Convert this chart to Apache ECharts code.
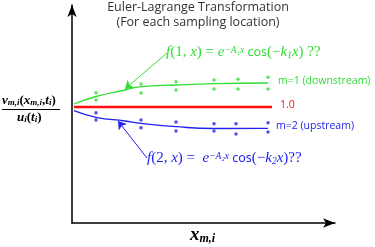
<!DOCTYPE html>
<html><head><meta charset="utf-8">
<script src="https://cdn.jsdelivr.net/npm/echarts@6/dist/echarts.min.js"></script>
<style>html,body{margin:0;padding:0;background:#fff}#c{width:375px;height:247px}</style>
</head><body><div id="c"></div>
<script>
// data (x: distance along axis, y: ratio in arbitrary units)
var greenCurve = [[2,119],[24,126.5],[53,133],[69,136.3],[104,138],[142,139.3],[196,140]];
var greenDots = [[24,130.3],[24,123],[69,139],[69,130],[104,141.3],[104,133],[142,143],[142,134],[166,143.7],[166,134],[196,145.7],[196,134]];
var redLine = [[2,116],[200,116]];
var blueCurve = [[2,112.3],[24,105.7],[53,102],[69,99.7],[104,96.3],[142,94.5],[196,94.7]];
var blueDots = [[24,110.3],[24,103],[69,103],[69,95.3],[104,101],[104,92],[142,99.3],[142,92],[164,99.3],[164,89],[196,100.3],[196,91]];
var greenArrow = [[95,170],[53,134]];
var blueArrow = [[75,65],[46,102]];

var G = '#33dd33', B = '#2222ee', R = '#ff1111';
var chart = echarts.init(document.getElementById('c'), null, {renderer:'canvas'});
var SF = '"Liberation Serif"';
function fstyles(col){
  return {
    i:{font:'italic 15px '+SF,fill:col},
    n:{font:'15px '+SF,fill:col},
    c:{font:'12.5px "Noto Sans"',fill:col},
    sup:{font:'italic 9.5px '+SF,fill:col,verticalAlign:'top'},
    sub:{font:'italic 9.5px '+SF,fill:col,verticalAlign:'bottom'}
  };
}
var blk = {
  i:{font:'italic bold 13px '+SF,fill:'#000'},
  n:{font:'bold 13px '+SF,fill:'#000'},
  s:{font:'italic bold 9px '+SF,fill:'#000',verticalAlign:'bottom'}
};
chart.setOption({
  animation:false,
  grid:{left:72,right:40,top:5,bottom:24},
  xAxis:{type:'value',min:0,max:263,axisLine:{show:true,lineStyle:{color:'#000',width:1.5},symbol:['none','arrow'],symbolSize:[7,12]},
    axisTick:{show:false},axisLabel:{show:false},splitLine:{show:false}},
  yAxis:{type:'value',min:0,max:218,axisLine:{show:true,lineStyle:{color:'#000',width:1.5},symbol:['none','arrow'],symbolSize:[7,12]},
    axisTick:{show:false},axisLabel:{show:false},splitLine:{show:false}},
  series:[
    {type:'line',data:greenCurve,smooth:0.5,showSymbol:false,lineStyle:{color:G,width:1.3},silent:true},
    {type:'scatter',data:greenDots,symbolSize:3.5,itemStyle:{color:G}},
    {type:'line',data:redLine,showSymbol:false,lineStyle:{color:R,width:2.5}},
    {type:'line',data:blueCurve,smooth:0.5,showSymbol:false,lineStyle:{color:B,width:1.3}},
    {type:'scatter',data:blueDots,symbolSize:3.5,itemStyle:{color:B}},
    {type:'line',data:greenArrow,showSymbol:false,lineStyle:{color:G,width:1,opacity:0},
      markLine:{silent:true,symbol:['none','arrow'],symbolSize:8,label:{show:false},lineStyle:{color:G,width:1,type:'solid'},data:[[{coord:greenArrow[0]},{coord:greenArrow[1]}]]}},
    {type:'line',data:blueArrow,showSymbol:false,lineStyle:{color:B,width:1,opacity:0},
      markLine:{silent:true,symbol:['none','arrow'],symbolSize:8,label:{show:false},lineStyle:{color:B,width:1,type:'solid'},data:[[{coord:blueArrow[0]},{coord:blueArrow[1]}]]}}
  ],
  graphic:[
    {type:'text',x:198,y:1,style:{text:'Euler-Lagrange Transformation',font:'12.5px "Open Sans"',fill:'#333',align:'center'}},
    {type:'text',x:198,y:16,style:{text:'(For each sampling location)',font:'12.5px "Open Sans"',fill:'#333',align:'center'}},
    {type:'text',left:166,top:45,style:{text:'{i|f}{n|(1, }{i|x}{n|) = }{i|e}{sup|−A₁x} {c|cos}{n|(−}{i|k}{sub|1}{i|x}{n|) ??}',rich:fstyles(G)}},
    {type:'text',left:147,top:151,style:{text:'{i|f}{n|(2, }{i|x}{n|) =  }{i|e}{sup|−A₂x} {c|cos}{n|(−}{i|k}{sub|2}{i|x}{n|)??}',rich:fstyles(B)}},
    {type:'text',left:278,top:76,style:{text:'m=1 (downstream)',font:'10.5px "Open Sans"',fill:G}},
    {type:'text',left:280,top:100,style:{text:'1.0',font:'10.5px "Open Sans"',fill:R}},
    {type:'text',left:276,top:121,style:{text:'m=2 (upstream)',font:'10.5px "Open Sans"',fill:B}},
    {type:'text',left:2,top:94,style:{text:'{i|v}{s|m,i}{n|(}{i|x}{s|m,i}{n|,}{i|t}{s|i}{n|)}',rich:blk}},
    {type:'line',shape:{x1:2,y1:109.5,x2:60,y2:109.5},style:{stroke:'#000',lineWidth:1}},
    {type:'text',left:17,top:111,style:{text:'{i|u}{s|i}{n|(}{i|t}{s|i}{n|)}',rich:blk}},
    {type:'text',left:190,top:226,style:{text:'{i|x}{s|m,i}',rich:{
      i:{font:'italic bold 19px '+SF,fill:'#000'},
      s:{font:'italic bold 12px '+SF,fill:'#000',verticalAlign:'bottom'}}}}
  ]
});
</script></body></html>
